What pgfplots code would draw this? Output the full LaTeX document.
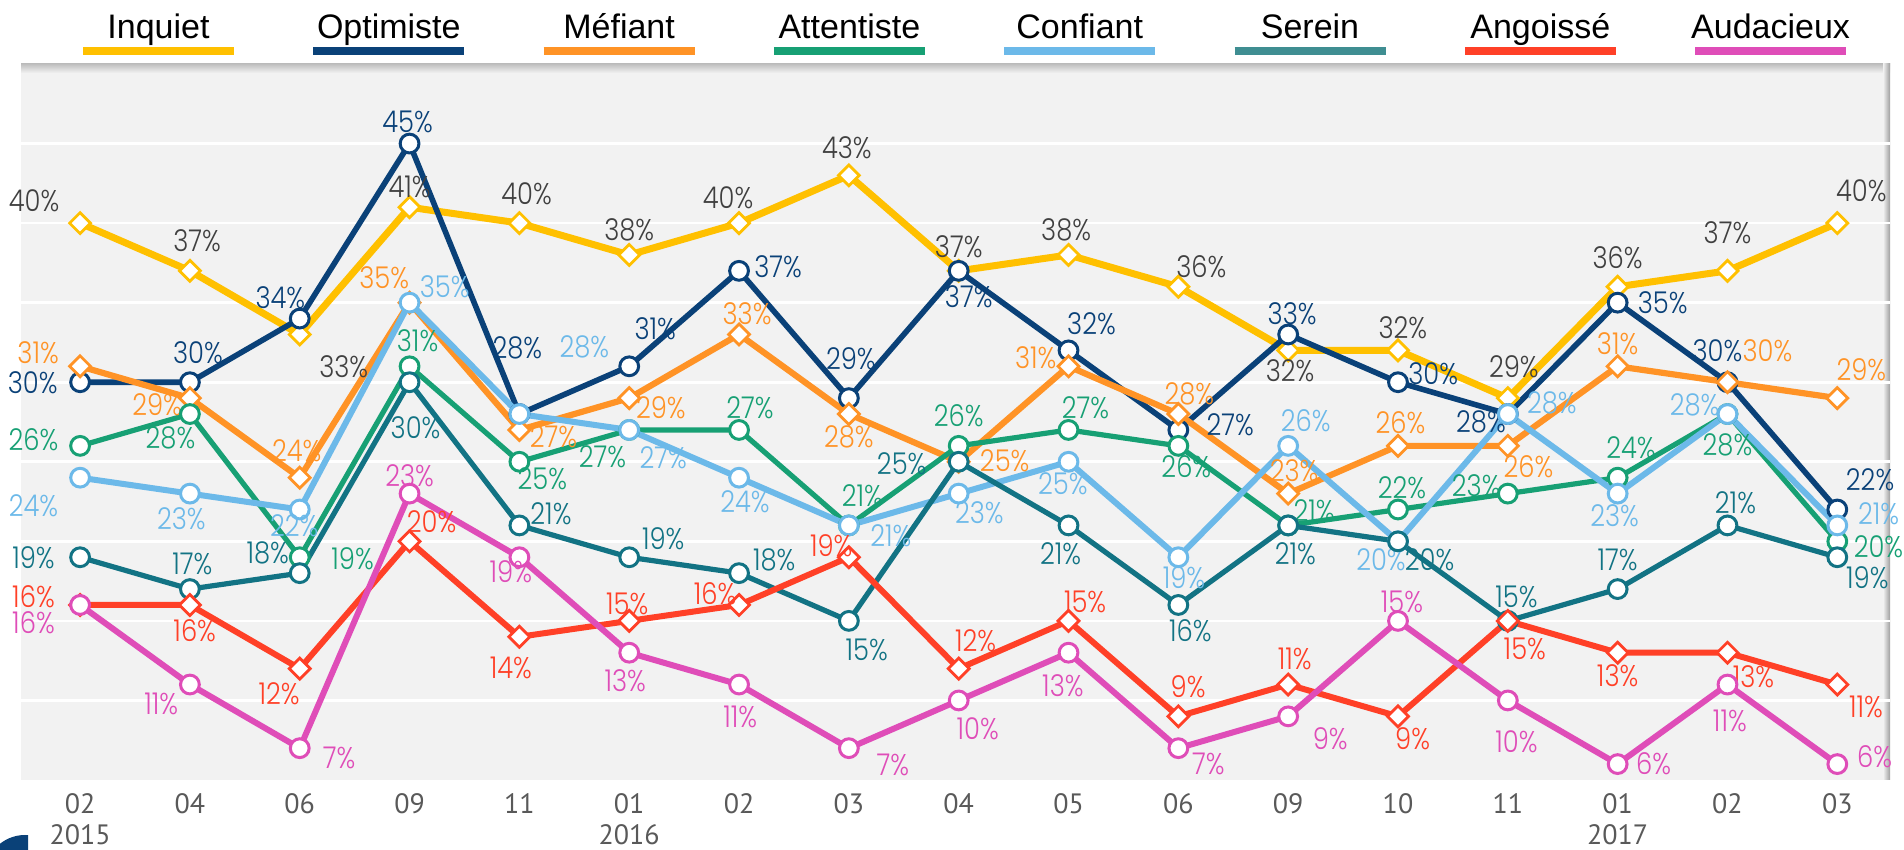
\documentclass[border=0pt]{standalone}
\usepackage{pgfplots}
\pgfplotsset{compat=1.18}
\usepackage{pgfplotstable}
\usepackage{fontspec}
\setmainfont{PT Sans}
\newfontfamily\lblfont{Poppins}[UprightFont={* Light},FakeStretch=0.86]
\newfontfamily\legfont{Liberation Sans}

\definecolor{bggray}{HTML}{F2F2F2}
\definecolor{tickgray}{HTML}{595959}
\definecolor{lblgray}{HTML}{404040}
\definecolor{cInq}{HTML}{FFC000}
\definecolor{cOpt}{HTML}{0A4178}
\definecolor{cMef}{HTML}{FF9326}
\definecolor{cAtt}{HTML}{17A074}
\definecolor{cCon}{HTML}{6CB9E9}
\definecolor{cSer}{HTML}{127384}
\definecolor{cSerLeg}{HTML}{3F8E92}
\definecolor{cAng}{HTML}{FF4027}
\definecolor{cAud}{HTML}{DF4DB8}

% columns: value, label x-offset (pt), label y-offset (pt)
\pgfplotstableread{
y dx dy
40 -23 11
37 3.6 15
33 22 -16
41 0 10
40 3.6 14.5
38 0 12.7
40 -5.5 12.7
43 -1 14
37 0 12
38 -1.2 12.7
36 11.5 10
32 1 -10
32 2.4 11.5
29 3 15.8
36 0 14.6
37 0 19
40 12 16
}\tInq
\pgfplotstableread{
y dx dy
30 -23.7 0
30 4 15
34 -9.7 10.6
45 -1 11
28 -1 33
31 13 19
37 19.5 2
29 1 19.5
37 5 -13
32 11.5 13.4
27 26 2.4
33 2 10.3
30 17.6 4.5
28 -13.4 -4
35 22.5 0
30 -5 16
22 16.4 15
}\tOpt
\pgfplotstableread{
y dx dy
31 -21 6.7
29 -16.4 -3.3
24 -1.5 13.7
35 -12.7 12.7
27 17 -3.6
29 15.8 -4.9
33 4 10.3
28 0 -11.5
25 23 0.6
31 -16.4 4.2
28 5.5 10.3
23 3 11.5
26 1.2 11.8
26 10.3 -10.6
31 0 11.5
30 20 16
29 12 14.3
}\tMef
\pgfplotstableread{
y dx dy
26 -23.3 3
28 -9.7 -12
19 26.4 -0.6
31 4 12.7
25 11.5 -8.5
27 -13.4 -13.4
27 5.5 11
21 6.7 14.6
26 0 15
27 8.5 11
26 4 -10.6
21 13 7.3
22 2 11
23 -15.8 4
24 6.7 15
28 0 -15.5
20 20.6 -2.6
}\tAtt
\pgfplotstableread{
y dx dy
24 -23.3 -14
23 -4.3 -12.5
22 -2.7 -8
35 17.6 8
28 32.5 33.7
27 17 -14
24 3 -12
21 21 -5.2
23 10.3 -9.5
25 -2.8 -11
19 2.8 -10
26 8.8 12.7
20 -8.5 -9.3
28 22 5.5
23 -1.5 -11
28 -16.4 4.5
21 20.6 5.6
}\tCon
\pgfplotstableread{
y dx dy
19 -23.3 0
17 1.2 12.8
18 -16 10
30 3 -22.5
21 15.8 5.8
19 17 9.5
18 17.6 6.7
15 8.9 -14.6
25 -28.5 -1
21 -4 -14.3
16 6 -12.7
21 3.6 -14.3
20 15.8 -9.3
15 4.3 12
17 0 14.6
21 4 11.5
19 15 -10
}\tSer
\pgfplotstableread{
y dx dy
16 -23.3 4.2
16 2.4 -12.7
12 -10.3 -12.7
20 11 9.7
14 -4.3 -15.8
15 -1 8.7
16 -12 5.7
19 -8.8 5.8
12 8.5 14
15 8.3 9.4
9 4.9 14.6
11 3.3 13
9 7.3 -11
15 8.5 -13.8
13 0 -11.5
13 13 -12
11 14.3 -11.3
}\tAng
\pgfplotstableread{
y dx dy
16 -23.3 -9
11 -14.3 -9.5
7 19.7 -5
23 0 9
19 -4.3 -7.4
13 -2 -14
11 0.6 -16
7 22 -8.6
10 9.5 -14
13 -2.8 -16.4
7 15 -7.8
9 21 -11
15 2 9.4
10 4.3 -20.8
6 18 0
11 1.2 -18
6 18.6 3.6
}\tAud

\pgfplotsset{
  ser/.style n args={4}{% line colour, label colour, mark, line width
    draw=#1, line width=#4,
    mark=#3, mark size=4.7pt,
    mark options={fill=white, draw=#1, line width=1.5pt},
    nodes near coords={\pgfmathprintnumber{\pgfplotspointmeta}\%},
    point meta=explicit,
    visualization depends on={\thisrow{dx}\as\ldx},
    visualization depends on={\thisrow{dy}\as\ldy},
    every node near coord/.append style={anchor=center, xshift={\ldx*1pt}, yshift={\ldy*1pt},
      font=\lblfont\fontsize{15}{15}\selectfont, text=#2, inner sep=0pt},
  },
  dia/.style={mark=square*, mark size=3.7pt,
    mark options={fill=white, draw=#1, line width=1.4pt, rotate=45}},
}

\begin{document}
\begin{tikzpicture}
\useasboundingbox (-10.5pt,-35pt) rectangle (941.5pt,390pt);
\fill[bggray] (0,0) rectangle (934.5pt,358pt);
\shade[top color=black!25, bottom color=bggray] (0,353.5pt) rectangle (934.5pt,358pt);
\shade[left color=bggray, right color=black!38] (931pt,0) rectangle (934.5pt,358pt);
\begin{scope}
  \clip (-10.5pt,-35pt) rectangle (3.5pt,-24pt);
  \fill[cOpt] (2pt,-47.5pt) circle (20pt);
\end{scope}
\begin{axis}[
  at={(0,0)}, anchor=south west,
  scale only axis, width=934.5pt, height=358pt,
  xmin=-0.538, xmax=16.48, ymin=5, ymax=50,
  clip=false,
  axis line style={draw=none},
  major tick length=0pt,
  ytick={10,15,...,45}, yticklabels={},
  ymajorgrids, grid style={white, line width=1.3pt},
  xtick={0,...,16},
  xticklabels={{02\\2015},04,06,09,11,{01\\2016},02,03,04,05,06,09,10,11,{01\\2017},02,03},
  xticklabel style={align=center, text=tickgray, font=\fontsize{14}{15.5}\selectfont, yshift=-3pt},
  /pgf/number format/assume math mode=true,
]
\addplot[ser={cInq}{lblgray}{square*}{3.5pt}, dia=cInq] table[x expr=\coordindex, y=y, meta=y] {\tInq};
\addplot[ser={cOpt}{cOpt}{*}{2.8pt}] table[x expr=\coordindex, y=y, meta=y] {\tOpt};
\addplot[ser={cMef}{cMef}{square*}{3.1pt}, dia=cMef] table[x expr=\coordindex, y=y, meta=y] {\tMef};
\addplot[ser={cAtt}{cAtt}{*}{2.6pt}] table[x expr=\coordindex, y=y, meta=y] {\tAtt};
\addplot[ser={cCon}{cCon}{*}{3.0pt}] table[x expr=\coordindex, y=y, meta=y] {\tCon};
\addplot[ser={cSer}{cSer}{*}{2.6pt}] table[x expr=\coordindex, y=y, meta=y] {\tSer};
\addplot[ser={cAng}{cAng}{square*}{3.0pt}, dia=cAng] table[x expr=\coordindex, y=y, meta=y] {\tAng};
\addplot[ser={cAud}{cAud}{*}{3.0pt}] table[x expr=\coordindex, y=y, meta=y] {\tAud};
\end{axis}
\foreach \name/\col [count=\k from 0] in {Inquiet/cInq, Optimiste/cOpt, Méfiant/cMef, Attentiste/cAtt, Confiant/cCon, Serein/cSerLeg, Angoissé/cAng, Audacieux/cAud}{
  \draw[\col, line width=4pt] ({31pt+115.15pt*\k},364.5pt) -- ++(75.5pt,0);
  \node[anchor=base, inner sep=0pt, font=\legfont\fontsize{17}{20}\selectfont] at ({68.75pt+115.15pt*\k},370.75pt) {\name};
}
\end{tikzpicture}
\end{document}
